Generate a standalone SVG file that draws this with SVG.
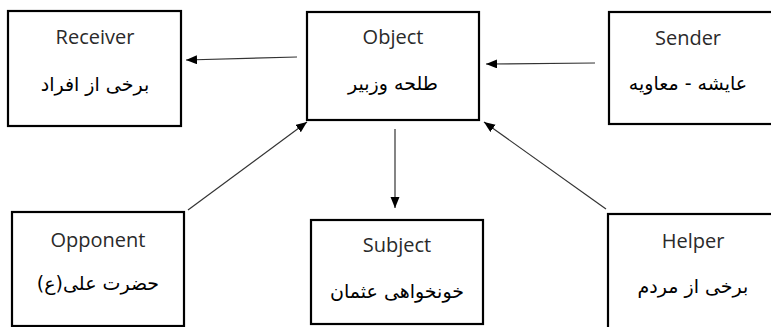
<svg xmlns="http://www.w3.org/2000/svg" width="771" height="327" viewBox="0 0 771 327">
<defs>
<marker id="ah" markerUnits="userSpaceOnUse" markerWidth="12" markerHeight="10" refX="11" refY="4.5" orient="auto">
<path d="M0,0 L11,4.5 L0,9 z" fill="#000"/>
</marker>
<style>
.box{fill:#fff;stroke:#000;stroke-width:2.2}
.en{font-family:"Open Sans","Liberation Sans",sans-serif;font-size:20px;fill:#2a2a2a;text-anchor:middle}
.fa{font-family:"DejaVu Sans","Noto Sans",sans-serif;font-size:19px;fill:#000;text-anchor:middle}
.con{stroke:#333;stroke-width:1.2;fill:none;marker-end:url(#ah)}
</style>
</defs>
<rect width="771" height="327" fill="#fff"/>
<g id="connectors">
<line class="con" x1="297" y1="57" x2="186" y2="60"/>
<line class="con" x1="595" y1="63" x2="486" y2="64"/>
<line class="con" x1="395" y1="129" x2="395" y2="208"/>
<line class="con" x1="188" y1="210" x2="307" y2="122"/>
<line class="con" x1="606" y1="209" x2="484" y2="122"/>
</g>
<g id="receiver">
<rect class="box" x="8" y="11" width="173" height="115"/>
<text class="en" x="95" y="44">Receiver</text>
<text class="fa" x="95" y="91" direction="rtl">برخی از افراد</text>
</g>
<g id="object">
<rect class="box" x="307" y="12" width="172" height="108"/>
<text class="en" x="393" y="44">Object</text>
<text class="fa" x="393" y="90" direction="rtl">طلحه وزبیر</text>
</g>
<g id="sender">
<rect class="box" x="609" y="12" width="172" height="112"/>
<text class="en" x="688" y="45">Sender</text>
<text class="fa" x="688" y="90" direction="rtl">عایشه - معاویه</text>
</g>
<g id="opponent">
<rect class="box" x="12" y="212" width="172" height="114"/>
<text class="en" x="98" y="247">Opponent</text>
<text class="fa" x="98" y="290" direction="rtl">حضرت علی(ع)</text>
</g>
<g id="subject">
<rect class="box" x="311" y="220" width="172" height="104"/>
<text class="en" x="397" y="252">Subject</text>
<text class="fa" x="397" y="298" direction="rtl">خونخواهی عثمان</text>
</g>
<g id="helper">
<rect class="box" x="608" y="214" width="172" height="120"/>
<text class="en" x="693" y="248">Helper</text>
<text class="fa" x="693" y="293" direction="rtl">برخی از مردم</text>
</g>
</svg>
